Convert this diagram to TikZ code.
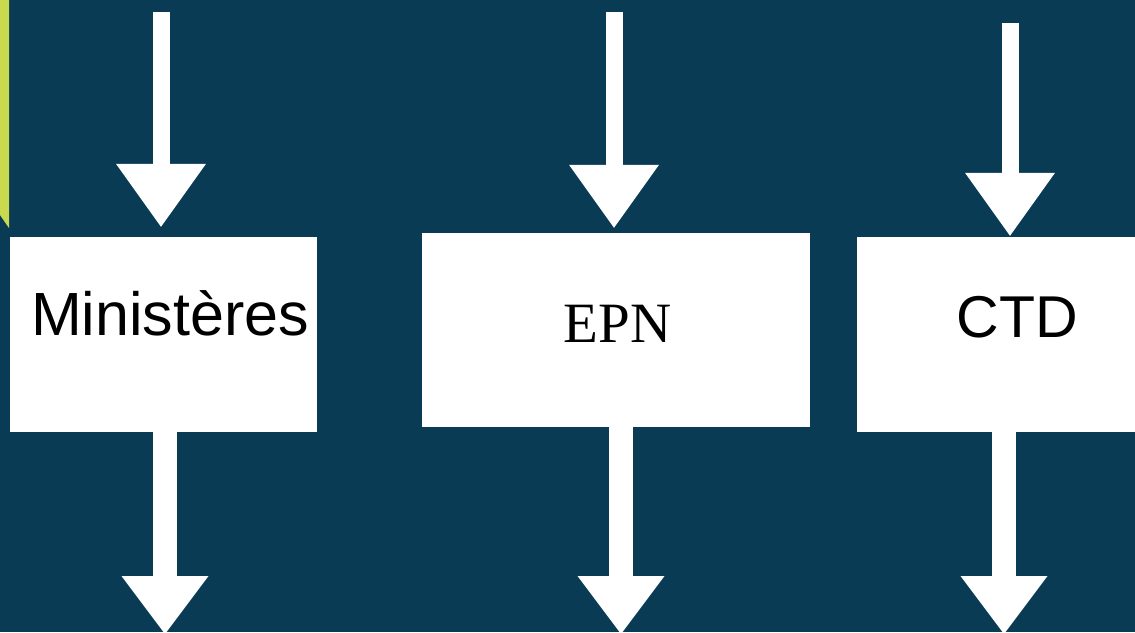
\documentclass[tikz,border=0pt]{standalone}
\usepackage{fontspec}
\setmainfont{Liberation Sans}
\newfontfamily\epnfont{Liberation Serif}
\usetikzlibrary{arrows.meta}
\definecolor{slate-blue}{HTML}{0A3B55}
\definecolor{lime-bar}{HTML}{C9DA4F}
\tikzset{
    white-box/.style = {fill=white, rectangle, inner sep=0pt, minimum height=195pt},
    box-text/.style = {anchor=base, inner sep=0pt, text=black},
    in-arrow/.style = {draw=white, line width=17pt, -{Triangle[length=63pt,width=90pt,line width=0pt]}},
    out-arrow/.style = {draw=white, line width=24pt, -{Triangle[length=58pt,width=87pt,line width=0pt]}},
}

\begin{document}
\begin{tikzpicture}[x=1pt,y=-1pt]
\fill[slate-blue] (0,0) rectangle (1135,632);
\useasboundingbox (0,0) rectangle (1135,632);
\fill[lime-bar] (0,0) -- (9,0) -- (9,228) -- (0,215) -- cycle;

% boxes
\node[white-box, minimum width=307pt] (min) at (163.5,334.5) {};
\node[white-box, minimum width=388pt, minimum height=194pt] (epn) at (616,330) {};
\node[white-box, minimum width=306pt] (ctd) at (1010,334.5) {};

\node[box-text, font=\fontsize{61pt}{70pt}\selectfont] (min-label) at (170,335) {Ministères};
\node[box-text, font=\epnfont\fontsize{57pt}{66pt}\selectfont] (epn-label) at (617.5,342) {EPN};
\node[box-text, font=\fontsize{59pt}{68pt}\selectfont] (ctd-label) at (1017.5,337) {CTD};

% arrows in and out
\coordinate (min-in) at (161,12);
\coordinate (epn-in) at (614,12);
\coordinate (ctd-in) at (1010,23);
\coordinate (min-out) at (165,634);
\coordinate (epn-out) at (621,634);
\coordinate (ctd-out) at (1004,634);

\draw[in-arrow] (min-in) -- ([yshift=10pt]min-in |- min.north);
\draw[in-arrow] (epn-in) -- ([yshift=5pt]epn-in |- epn.north);
\draw[in-arrow] (ctd-in) -- ([yshift=1pt]ctd-in |- ctd.north);

\draw[out-arrow] (min-out |- min.south) -- (min-out);
\draw[out-arrow] (epn-out |- epn.south) -- (epn-out);
\draw[out-arrow] (ctd-out |- ctd.south) -- (ctd-out);
\end{tikzpicture}
\end{document}
